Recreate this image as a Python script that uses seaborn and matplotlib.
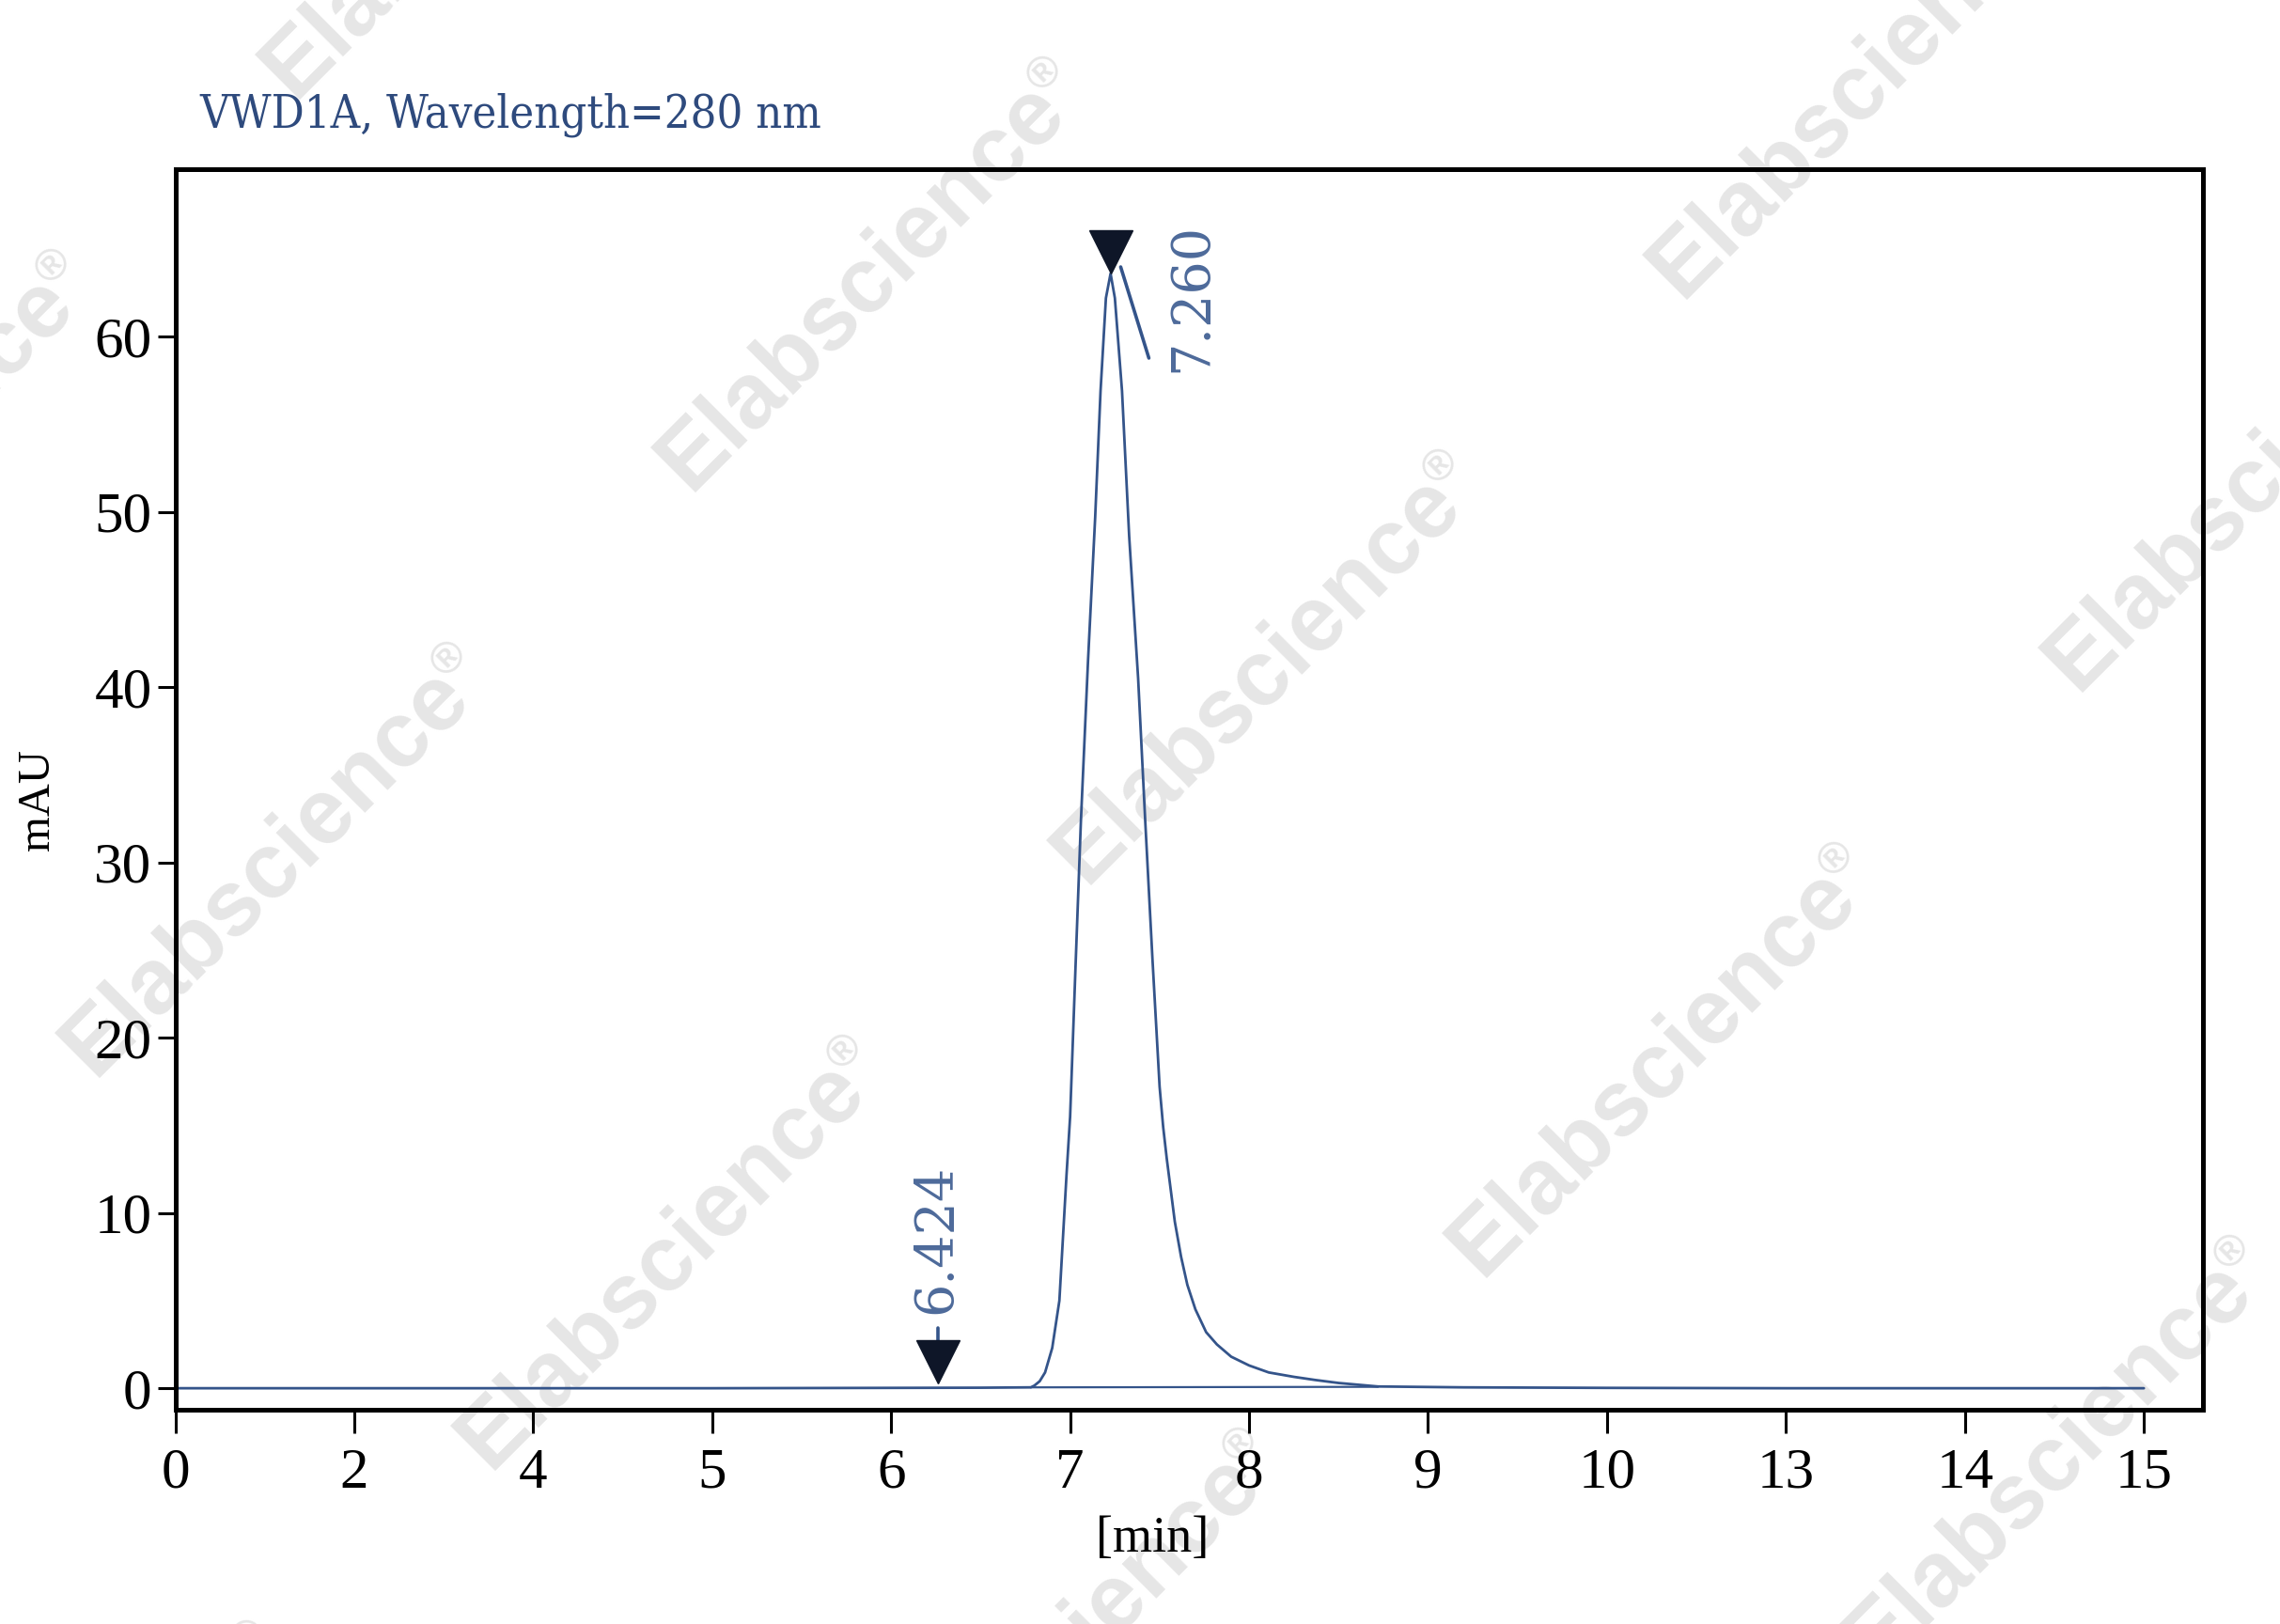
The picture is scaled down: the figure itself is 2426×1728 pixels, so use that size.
import numpy as np
import matplotlib
matplotlib.use("Agg")
import matplotlib.pyplot as plt
import matplotlib.transforms as mtransforms
import seaborn as sns

# ==========================================
# Data
# ==========================================

# tick labels on the (unevenly labelled) time axis
tick_minutes = [0, 2, 4, 5, 6, 7, 8, 9, 10, 13, 14, 15]
y_ticks = [0, 10, 20, 30, 40, 50, 60]

# detector trace
time_min = [0.0, 2.0, 4.0, 5.0, 6.0, 6.5, 6.78, 6.80, 6.83, 6.86, 6.90, 6.94,
            6.96, 6.98, 7.00, 7.03, 7.06, 7.10, 7.14, 7.17, 7.20, 7.226,
            7.25, 7.29, 7.33, 7.38, 7.42, 7.46, 7.50, 7.52, 7.54, 7.585,
            7.62, 7.655, 7.70, 7.76, 7.82, 7.90, 8.00, 8.11, 8.25, 8.37,
            8.50, 8.72, 9.2, 10.0, 13.0, 14.0, 15.0]
signal_mau = [0.0, 0.0, 0.0, 0.0, 0.02, 0.03, 0.05, 0.15, 0.4, 0.9, 2.3, 5.0,
              8.6, 12.2, 15.5, 24.0, 32.3, 41.5, 49.7, 56.9, 62.2, 63.6,
              62.2, 56.9, 48.6, 40.5, 32.3, 24.5, 17.2, 14.9, 13.1, 9.5,
              7.5, 5.9, 4.5, 3.2, 2.5, 1.8, 1.3, 0.9, 0.65, 0.47,
              0.3, 0.1, 0.05, 0.02, 0.0, 0.0, 0.0]

# integration baseline under the main peak
baseline_min = [6.78, 8.72]
baseline_mau = [0.05, 0.08]

# peak markers: where the triangles sit and the retention time printed
marker_min = [6.26, 7.23]
marker_mau = [0.0, 63.6]
marker_label = ["6.424", "7.260"]

title_text = "VWD1A, Wavelength=280 nm"
watermark_text = "Elabscience"

# ==========================================
# Style
# ==========================================

sns.set_theme(style="white")
plt.rcParams["font.family"] = ["Liberation Serif", "DejaVu Serif"]

line_color = "#34548a"
text_blue = "#4d6a9a"
title_blue = "#2e4a7d"
marker_color = "#0e1628"
mark_grey = "#e6e6e6"

W, H, DPI = 2426, 1728, 100
fig = plt.figure(figsize=(W / DPI, H / DPI), dpi=DPI)
fig.patch.set_facecolor("white")

ax = fig.add_axes([0.0769, 0.1319, 0.8893, 0.7639])
ax.set_facecolor("none")
ax.set_zorder(2)

# evenly spaced labelled ticks -> map minutes onto tick index
tick_idx = np.arange(len(tick_minutes))
def to_pos(t):
    return np.interp(t, tick_minutes, tick_idx)

sns.lineplot(x=to_pos(time_min), y=signal_mau, color=line_color,
             linewidth=2.0, sort=False, errorbar=None, ax=ax)
sns.lineplot(x=to_pos(baseline_min), y=baseline_mau, color=line_color,
             linewidth=1.6, sort=False, errorbar=None, ax=ax)

ax.set_xlim(0, 11.33)
ax.set_ylim(-1.23, 69.55)
ax.set_xticks(tick_idx)
ax.set_xticklabels([str(t) for t in tick_minutes])
ax.set_yticks(y_ticks)
ax.set_yticklabels([str(v) for v in y_ticks])

for side in ["left", "right", "top", "bottom"]:
    ax.spines[side].set_visible(True)
    ax.spines[side].set_color("black")
    ax.spines[side].set_linewidth(3.6)

ax.tick_params(axis="x", direction="out", length=18, width=2.2, pad=11,
               labelsize=44, colors="black", bottom=True)
ax.tick_params(axis="y", direction="out", length=14, width=2.2, pad=4,
               labelsize=44, colors="black", left=True)

ax.set_xlabel("[min]", fontsize=39, color="black")
ax.xaxis.set_label_coords(0.482, -0.085)
ax.set_ylabel("mAU", fontsize=35, color="black")
ax.yaxis.set_label_coords(-0.0578, 0.492)

ax.text(0.0118, 1.044, title_text, transform=ax.transAxes, ha="left",
        va="center", fontsize=35, color=title_blue,
        family=["DejaVu Serif"], fontstretch="condensed")

# ==========================================
# Peak markers and retention time labels
# ==========================================

# offsets in inches relative to each marker point
tip_offset = [0.28, 0.235]
stem = [((0.0, 0.49), (0.0, 0.64)), ((0.10, 0.07), (0.40, -0.90))]
label_offset = [(-0.02, 1.59), (0.86, -0.255)]

for i in range(len(marker_min)):
    px = to_pos(marker_min[i])
    trans = fig.dpi_scale_trans + mtransforms.ScaledTranslation(
        px, marker_mau[i], ax.transData)
    ax.plot([0], [tip_offset[i]], marker="v", markersize=33,
            color=marker_color, transform=trans, clip_on=False, zorder=5)
    (x0, y0), (x1, y1) = stem[i]
    ax.plot([x0, x1], [y0, y1], color=line_color, linewidth=2.6,
            transform=trans, clip_on=False, zorder=4)
    ax.text(label_offset[i][0], label_offset[i][1], marker_label[i],
            transform=trans, rotation=90, ha="center", va="center",
            fontsize=40, color=text_blue, family=["DejaVu Serif"])

# ==========================================
# Watermark
# ==========================================

angle = np.deg2rad(45)
along = np.array([np.cos(angle), np.sin(angle)])
normal = np.array([-np.sin(angle), np.cos(angle)])

origin = np.array([283.0, 928.0])
step_a = np.array([421.0, 418.0])
step_b = np.array([634.0, -623.0])
for i in range(-2, 5):
    for j in range(-2, 4):
        cx, cy = origin + i * step_a + j * step_b
        if not (-500 < cx < W + 500 and -500 < cy < H + 500):
            continue
        fig.text(cx / W, 1 - cy / H, watermark_text, rotation=45,
                 rotation_mode="anchor", ha="center", va="center",
                 fontsize=71, fontweight="bold", family=["Liberation Sans"],
                 color=mark_grey, zorder=1)
        # small registered sign after the word, in display px (y up)
        rx, ry = np.array([cx, H - cy]) + 298 * along + 22 * normal
        fig.text(rx / W, ry / H, "\u00ae", rotation=45,
                 rotation_mode="anchor", ha="center", va="center",
                 fontsize=34, fontweight="bold", family=["Liberation Sans"],
                 color=mark_grey, zorder=1)

fig.savefig("out.png", dpi=DPI, facecolor="white")
